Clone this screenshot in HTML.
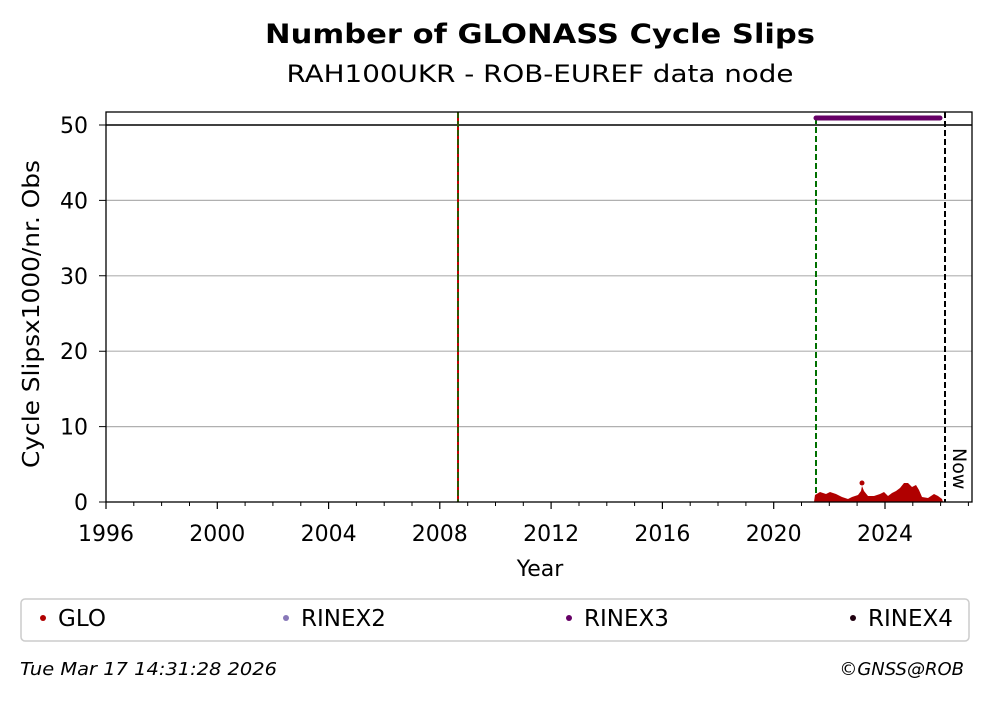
<!DOCTYPE html>
<html><head><meta charset="utf-8"><style>
body{margin:0;background:#fff;width:993px;height:699px;overflow:hidden;font-family:"DejaVu Sans","Liberation Sans",sans-serif}
</style></head><body>
<svg width="993" height="699" viewBox="0 0 993 699" xmlns="http://www.w3.org/2000/svg" font-family="DejaVu Sans, Liberation Sans, sans-serif">
<text x="540" y="43" text-anchor="middle" font-size="27" font-weight="bold" textLength="550" lengthAdjust="spacingAndGlyphs">Number of GLONASS Cycle Slips</text>
<text x="540" y="82" text-anchor="middle" font-size="24" textLength="507" lengthAdjust="spacingAndGlyphs">RAH100UKR - ROB-EUREF data node</text>
<g stroke="#b0b0b0" stroke-width="1.2">
<line x1="106" x2="972" y1="426.6" y2="426.6"/><line x1="106" x2="972" y1="351.2" y2="351.2"/>
<line x1="106" x2="972" y1="275.8" y2="275.8"/><line x1="106" x2="972" y1="200.4" y2="200.4"/>
</g>
<line x1="106" x2="972" y1="125" y2="125" stroke="#000" stroke-width="1.5"/>
<line x1="458" x2="458" y1="112" y2="502" stroke="#c00000" stroke-width="2"/>
<line x1="458" x2="458" y1="112" y2="502" stroke="#007000" stroke-width="1.5" stroke-dasharray="6,3"/>
<line x1="816" x2="816" y1="118" y2="502" stroke="#007000" stroke-width="2" stroke-dasharray="6,3"/>
<line x1="945" x2="945" y1="112" y2="502" stroke="#000" stroke-width="2" stroke-dasharray="6,3"/>
<line x1="816" x2="940" y1="118" y2="118" stroke="#660066" stroke-width="5" stroke-linecap="round"/>
<polygon fill="#b00000" points="814,502 815,495 820,492 826,494 830,492 836,494 842,497 848,499 852,497 858,495 861,491 862,486 864,491 868,496 874,496 880,494 884,492 888,496 892,493 896,491 900,488 904,483 908,483 912,487 916,485 919,490 922,497 928,498 934,494 938,496 942,499 943,502"/>
<circle cx="862" cy="483" r="2.5" fill="#b00000"/>
<rect x="106" y="112" width="866" height="390" fill="none" stroke="#000" stroke-width="1.3"/>
<text transform="translate(953,448) rotate(90)" font-size="19">Now</text>
<g stroke="#000" stroke-width="1.2">
<line x1="106" x2="106" y1="502" y2="509"/><line x1="217.3" x2="217.3" y1="502" y2="509"/>
<line x1="328.6" x2="328.6" y1="502" y2="509"/><line x1="439.8" x2="439.8" y1="502" y2="509"/>
<line x1="551.1" x2="551.1" y1="502" y2="509"/><line x1="662.4" x2="662.4" y1="502" y2="509"/>
<line x1="773.7" x2="773.7" y1="502" y2="509"/><line x1="885" x2="885" y1="502" y2="509"/>
</g>
<g stroke="#000" stroke-width="1">
<path d="M133.8 502v4M161.6 502v4M189.5 502v4M245.1 502v4M272.9 502v4M300.8 502v4M356.4 502v4M384.2 502v4M412 502v4M467.7 502v4M495.5 502v4M523.3 502v4M579 502v4M606.8 502v4M634.6 502v4M690.2 502v4M718 502v4M745.9 502v4M801.5 502v4M829.3 502v4M857.1 502v4M912.8 502v4M940.6 502v4M968.4 502v4"/>
<path d="M99 502h7M99 426.6h7M99 351.2h7M99 275.8h7M99 200.4h7M99 125h7"/>
</g>
<g font-size="22" text-anchor="middle">
<text x="106" y="541">1996</text><text x="217.3" y="541">2000</text><text x="328.6" y="541">2004</text><text x="439.8" y="541">2008</text><text x="551.1" y="541">2012</text><text x="662.4" y="541">2016</text><text x="773.7" y="541">2020</text><text x="885" y="541">2024</text>
</g>
<g font-size="22" text-anchor="end">
<text x="88" y="510">0</text><text x="88" y="434.6">10</text><text x="88" y="359.2">20</text><text x="88" y="283.8">30</text><text x="88" y="208.4">40</text><text x="88" y="133">50</text>
</g>
<text x="540" y="576" text-anchor="middle" font-size="22">Year</text>
<text transform="translate(39,314) rotate(-90)" text-anchor="middle" font-size="23" textLength="308" lengthAdjust="spacingAndGlyphs">Cycle Slipsx1000/nr. Obs</text>
<rect x="21" y="599" width="948" height="42" rx="4" fill="none" stroke="#ccc" stroke-width="1.5"/>
<g font-size="23">
<circle cx="43" cy="618" r="3" fill="#b00000"/><text x="58" y="626">GLO</text>
<circle cx="286" cy="618" r="3" fill="#8878b8"/><text x="301" y="626">RINEX2</text>
<circle cx="569" cy="618" r="3" fill="#660066"/><text x="584" y="626">RINEX3</text>
<circle cx="853" cy="618" r="3" fill="#200010"/><text x="868" y="626">RINEX4</text>
</g>
<text x="20" y="675" font-size="18" font-style="italic" textLength="257" lengthAdjust="spacingAndGlyphs">Tue Mar 17 14:31:28 2026</text>
<text x="964" y="675" font-size="18" font-style="italic" text-anchor="end">©GNSS@ROB</text>
</svg>
</body></html>
